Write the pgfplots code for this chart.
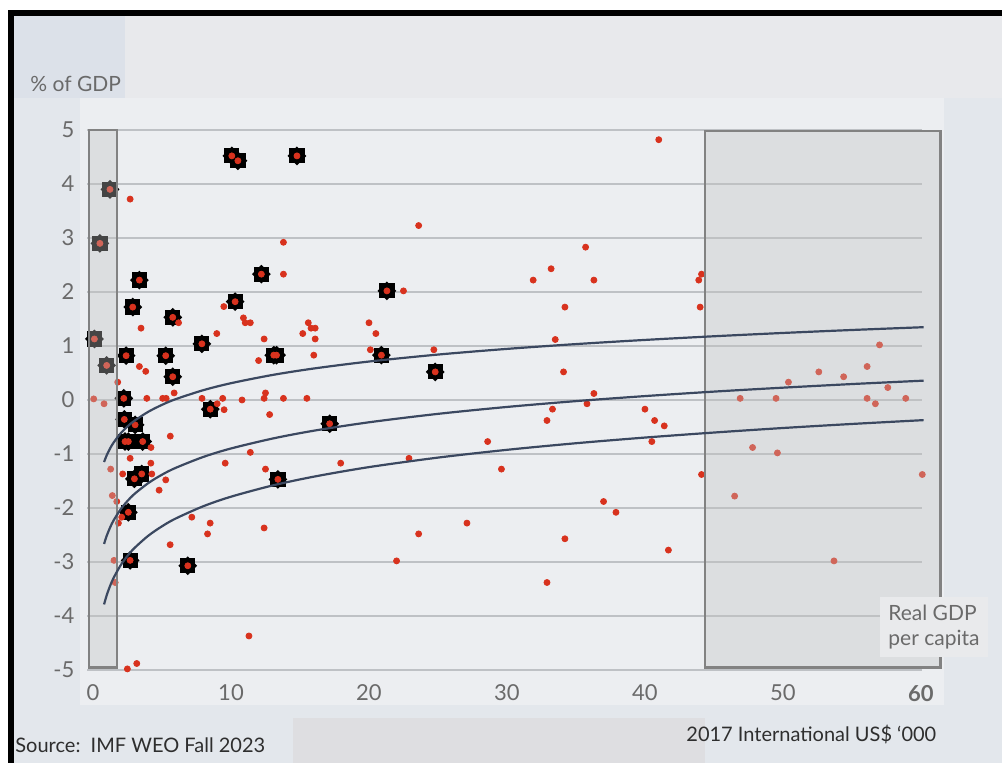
\documentclass[border=0pt]{standalone}
\usepackage{fontspec}
\setmainfont{Lato}
\usepackage{pgfplots}
\pgfplotsset{compat=1.18}
\usepackage{pgfplotstable}

\definecolor{bgc}{HTML}{E3E7EC}
\definecolor{topc}{HTML}{E8E9EC}
\definecolor{tlc}{HTML}{DCE1E9}
\definecolor{panel}{HTML}{ECEEF1}
\definecolor{reddot}{HTML}{D8321E}
\definecolor{curvec}{HTML}{3B4860}
\definecolor{gridc}{HTML}{BEC1C5}
\definecolor{boxc}{HTML}{828282}
\definecolor{ovl}{HTML}{C2C2C2}
\definecolor{tickc}{HTML}{6A6A6A}
\definecolor{darkt}{HTML}{2E2E2E}
\definecolor{labbg}{HTML}{E9EAEC}

\pgfdeclareplotmark{gear}{%
 \pgfpathrectangle{\pgfpoint{-3.8pt}{-3.8pt}}{\pgfpoint{7.6pt}{7.6pt}}\pgfusepathqfill
 \pgfpathmoveto{\pgfpoint{0pt}{4.7pt}}\pgfpathlineto{\pgfpoint{4.7pt}{0pt}}%
 \pgfpathlineto{\pgfpoint{0pt}{-4.7pt}}\pgfpathlineto{\pgfpoint{-4.7pt}{0pt}}%
 \pgfpathclose\pgfusepathqfill}

\pgfplotstableread{
x y
0.05 0.02
0.80 -0.07
1.28 -1.28
1.40 -1.77
1.52 -2.97
1.60 -3.38
1.72 -1.88
1.79 0.33
1.84 -2.28
2.08 -2.17
2.15 -1.37
2.49 -4.98
2.69 3.72
2.69 -1.08
3.17 -4.88
3.36 0.62
3.48 1.33
3.82 0.53
3.90 0.03
4.19 -1.17
4.20 -0.88
4.26 -1.37
4.79 -1.67
5.05 0.03
5.30 0.03
5.27 -1.48
5.60 -0.67
5.59 -2.68
5.88 0.13
6.20 1.43
7.16 -2.17
7.90 0.03
8.30 -2.48
8.49 -2.28
8.97 1.23
9.00 -0.07
9.40 0.03
9.48 1.73
9.50 -0.18
9.58 -1.17
10.80 0.00
10.90 1.52
11.03 1.43
11.40 1.43
11.30 -4.37
11.40 -0.97
12.00 0.73
12.40 1.13
12.40 0.03
12.50 0.13
12.50 -1.28
12.40 -2.37
12.80 -0.27
13.80 2.92
13.80 2.33
13.80 0.03
15.20 1.23
15.50 0.03
15.60 1.43
15.80 1.33
16.10 1.33
16.10 1.13
16.00 0.83
17.95 -1.17
20.00 1.43
20.10 0.93
20.50 1.23
22.00 -2.98
22.50 2.02
22.90 -1.08
23.60 3.23
23.60 -2.48
24.70 0.93
27.10 -2.28
28.60 -0.77
29.60 -1.28
31.90 2.22
32.90 -0.38
32.90 -3.38
33.20 2.43
33.30 -0.17
33.50 1.12
34.10 0.52
34.20 1.72
34.20 -2.57
35.70 2.83
35.80 -0.07
36.30 2.22
36.30 0.12
37.00 -1.88
37.90 -2.08
40.00 -0.17
40.50 -0.77
40.70 -0.38
41.00 4.82
41.40 -0.48
41.70 -2.78
43.90 2.22
44.00 1.72
44.10 2.33
44.10 -1.38
46.50 -1.78
46.90 0.03
47.80 -0.88
49.50 0.03
49.60 -0.98
50.40 0.33
52.60 0.52
53.70 -2.98
54.40 0.43
56.10 0.62
56.10 0.03
56.70 -0.07
57.00 1.02
57.60 0.23
58.90 0.03
60.10 -1.38
}\reddots

\pgfplotstableread{
x y
0.10 1.13
0.50 2.90
1.23 3.90
0.99 0.64
2.23 0.03
2.27 -0.36
3.05 -0.46
2.32 -0.77
2.56 -0.77
3.60 -0.77
3.00 -1.46
3.53 -1.37
2.56 -2.08
2.69 -2.97
6.87 -3.07
2.40 0.82
2.88 1.72
3.36 2.22
5.27 0.82
5.78 1.53
5.78 0.43
7.89 1.04
8.50 -0.17
10.06 4.52
10.50 4.43
14.78 4.52
10.30 1.82
12.20 2.33
13.10 0.83
13.30 0.83
13.40 -1.47
17.15 -0.44
20.90 0.83
21.30 2.02
24.80 0.52
}\hidots

\pgfplotstableread{
x up mid low
0.8 -1.149 -2.666 -3.786
1 -1.020 -2.510 -3.610
1.25 -0.891 -2.354 -3.434
1.5 -0.786 -2.226 -3.290
2 -0.619 -2.025 -3.062
2.5 -0.490 -1.869 -2.886
3 -0.385 -1.741 -2.742
4 -0.219 -1.540 -2.515
5 -0.090 -1.383 -2.339
6 0.016 -1.256 -2.194
8 0.182 -1.054 -1.967
10 0.311 -0.898 -1.791
13 0.463 -0.715 -1.584
16 0.583 -0.569 -1.420
20 0.712 -0.413 -1.243
25 0.841 -0.257 -1.067
30 0.946 -0.129 -0.923
35 1.035 -0.021 -0.801
40 1.112 0.072 -0.696
45 1.180 0.155 -0.603
50 1.241 0.228 -0.519
55 1.296 0.295 -0.444
60.2 1.348 0.358 -0.373
}\curves

\pgfplotsset{base/.style={
  at={(43.75pt,46.5pt)}, anchor=south west, scale only axis,
  width=417.4pt, height=270pt,
  xmin=-0.4, xmax=60.1, ymin=-5, ymax=5,
  clip=false}}

\begin{document}
\begin{tikzpicture}
% background
\fill[white] (0,0) rectangle (501pt,381.5pt);
\fill[bgc] (4pt,0) rectangle (501pt,376.5pt);
\fill[topc] (62.5pt,332.5pt) rectangle (501pt,373.5pt);
\fill[tlc] (7pt,332.5pt) rectangle (62.5pt,373.5pt);
\fill[panel] (40pt,29pt) rectangle (472pt,332.5pt);
\fill[topc!90!gray] (146.5pt,0pt) rectangle (352.5pt,22.5pt);
\fill[black] (4pt,373.5pt) rectangle (501pt,376.5pt);
\fill[black] (4pt,0pt) rectangle (7pt,376.5pt);

\begin{axis}[base,
  axis line style={draw=none},
  major tick length=0pt,
  ymajorgrids, grid style={gridc, line width=0.7pt},
  xtick={0,10,20,30,40,50,60},
  xticklabels={0,10,20,30,40,50,{\textbf{60}}},
  ytick={-5,-4,-3,-2,-1,0,1,2,3,4,5},
  yticklabels={-5,-4,-3,-2,-1,0,1,2,3,4,5},
  tick label style={font=\fontsize{11}{13}\selectfont, text=tickc},
  yticklabel style={xshift=-3pt},
  xticklabel style={yshift=-4pt},
]
\addplot[only marks, mark=gear, black] table[x=x,y=y] {\hidots};
\addplot[only marks, mark=*, mark size=1.5pt, reddot, mark options={draw=reddot, fill=reddot}] table[x=x,y=y] {\reddots};
\addplot[only marks, mark=*, mark size=1.5pt, reddot, mark options={draw=reddot, fill=reddot}] table[x=x,y=y] {\hidots};
\coordinate (la) at (axis cs:-0.29,-4.96);
\coordinate (lb) at (axis cs:1.74,5.0);
\coordinate (ra) at (axis cs:44.35,-4.96);
\coordinate (rb) at (axis cs:61.4,4.98);
\end{axis}

% shaded boxes on top of the points
\fill[ovl, fill opacity=0.36] (la) rectangle (lb);
\draw[boxc, line width=1.4pt] (la) rectangle (lb);
\fill[ovl, fill opacity=0.36] (ra) rectangle (rb);
\draw[boxc, line width=1.4pt] (ra) rectangle (rb);

\begin{axis}[base, hide axis]
\addplot[curvec, line width=1.1pt, smooth] table[x=x,y=up] {\curves};
\addplot[curvec, line width=1.1pt, smooth] table[x=x,y=mid] {\curves};
\addplot[curvec, line width=1.1pt, smooth] table[x=x,y=low] {\curves};
\end{axis}

\node[anchor=west, inner sep=0pt, text=tickc, font=\fontsize{10.5}{12}\selectfont] at (15pt,339.5pt) {\% of GDP};
\node[anchor=west, inner sep=0pt, text=darkt, font=\fontsize{10}{12}\selectfont] at (7.5pt,9pt) {Source:\ \ IMF WEO Fall 2023};
\node[anchor=west, inner sep=0pt, text=darkt, font=\fontsize{10}{12}\selectfont] at (343pt,14pt) {2017 International US\$ ‘000};
\node[anchor=north west, fill=labbg, text=tickc, align=left, inner sep=4pt, font=\fontsize{10.5}{12.5}\selectfont] at (440pt,83pt) {Real GDP\\per capita};

\pgfresetboundingbox
\useasboundingbox (0,0) rectangle (501pt,381.5pt);
\end{tikzpicture}
\end{document}
